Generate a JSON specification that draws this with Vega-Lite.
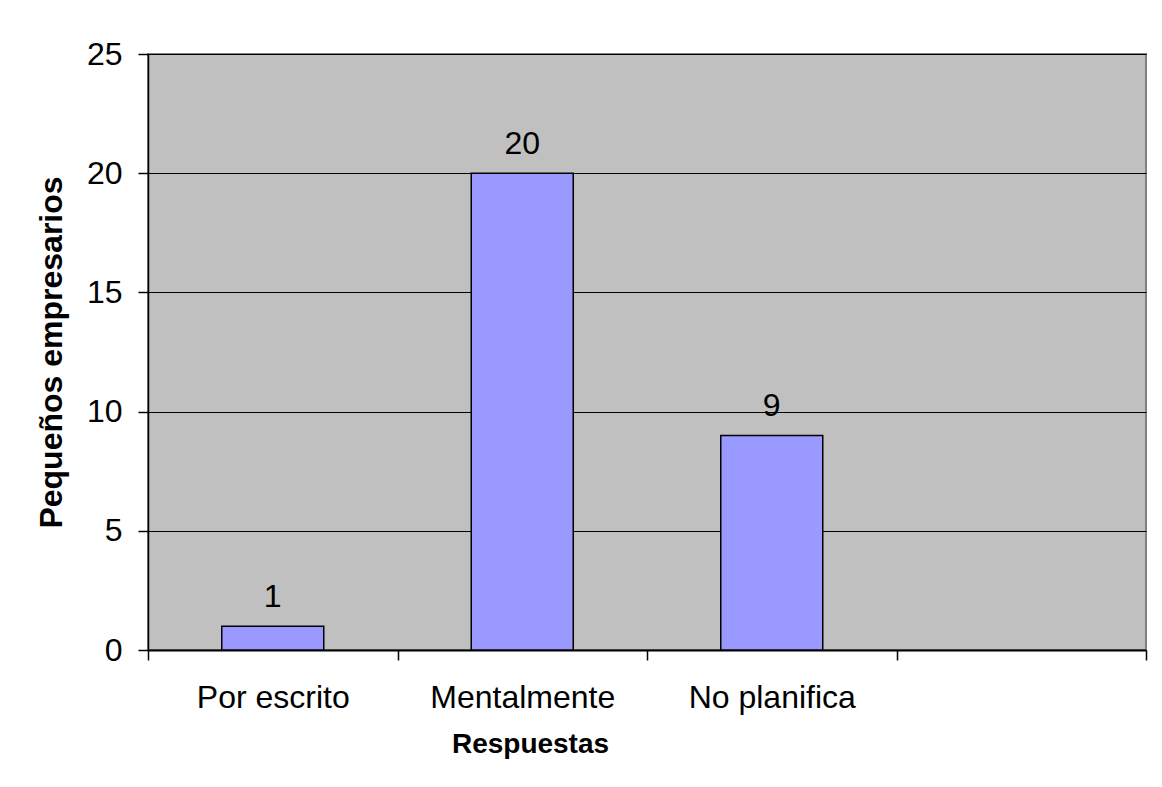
{
  "$schema": "https://vega.github.io/schema/vega-lite/v6.json",
  "width": 998,
  "height": 596,
  "autosize": {"type": "none"},
  "padding": {"left": 148, "top": 54, "right": 16, "bottom": 137},
  "background": "white",
  "data": {
    "values": [
      {"respuesta": "Por escrito", "empresarios": 1},
      {"respuesta": "Mentalmente", "empresarios": 20},
      {"respuesta": "No planifica", "empresarios": 9}
    ]
  },
  "encoding": {
    "x": {
      "field": "respuesta",
      "type": "nominal",
      "sort": null,
      "scale": {
        "domain": ["Por escrito", "Mentalmente", "No planifica", " "],
        "paddingInner": 0,
        "paddingOuter": 0
      },
      "axis": {
        "title": "Respuestas",
        "labelAngle": 0,
        "labelLimit": 0,
        "tickBand": "extent",
        "grid": false,
        "labelFontSize": 32,
        "labelBaseline": "alphabetic",
        "labelPadding": 47,
        "tickSize": 10,
        "tickColor": "#000000",
        "tickWidth": 1.5,
        "domainColor": "#000000",
        "domainWidth": 2,
        "titleX": 382,
        "titleY": 102,
        "titleAlign": "center",
        "titleBaseline": "alphabetic",
        "titleFontSize": 28,
        "titleFontWeight": "bold"
      }
    },
    "y": {
      "field": "empresarios",
      "type": "quantitative",
      "scale": {"domain": [0, 25], "nice": false},
      "axis": {
        "title": "Pequeños empresarios",
        "values": [0, 5, 10, 15, 20, 25],
        "grid": true,
        "gridColor": "#000000",
        "gridWidth": 1,
        "labelFontSize": 32,
        "labelPadding": 16,
        "tickSize": 10,
        "tickColor": "#000000",
        "tickWidth": 1.5,
        "domainColor": "#000000",
        "domainWidth": 1.5,
        "titleAngle": 270,
        "titleX": -87,
        "titleY": 298,
        "titleAlign": "center",
        "titleBaseline": "alphabetic",
        "titleFontSize": 32,
        "titleFontWeight": "bold"
      }
    }
  },
  "layer": [
    {
      "mark": {
        "type": "bar",
        "size": 102,
        "fill": "#9999FF",
        "stroke": "#000000",
        "strokeWidth": 1.5
      }
    },
    {
      "mark": {
        "type": "text",
        "dy": -19,
        "baseline": "alphabetic",
        "fontSize": 32,
        "color": "#000000"
      },
      "encoding": {"text": {"field": "empresarios", "type": "quantitative"}}
    }
  ],
  "config": {
    "font": "Liberation Sans",
    "view": {"fill": "#C0C0C0", "stroke": "#808080", "strokeWidth": 2},
    "axis": {
      "labelColor": "#000000",
      "titleColor": "#000000",
      "labelFont": "Liberation Sans",
      "titleFont": "Liberation Sans"
    }
  }
}
